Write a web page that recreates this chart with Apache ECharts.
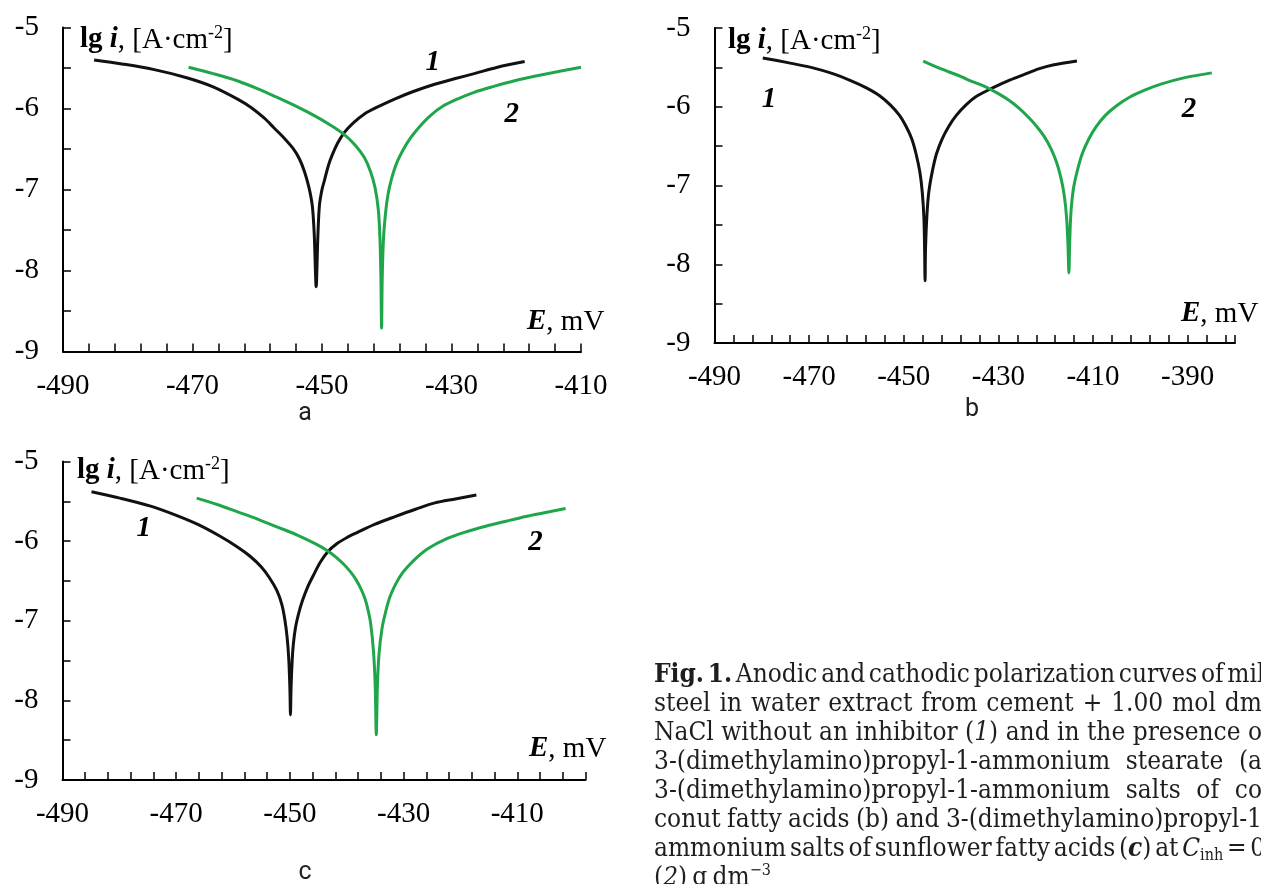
<!DOCTYPE html>
<html>
<head>
<meta charset="utf-8">
<script src="https://cdn.jsdelivr.net/npm/echarts@6/dist/echarts.min.js"></script>
<style>
  html, body { margin: 0; padding: 0; background: #fff; }
  #main { width: 1261px; height: 884px; }
</style>
</head>
<body>
<div id="main"></div>
<script>
// values: [E (mV), lg i]
const aCurve1 = [[-485.2,-5.40],[-480.9,-5.45],[-475.9,-5.52],[-470.9,-5.62],[-466.9,-5.73],[-462.9,-5.89],[-460.9,-5.99],[-458.9,-6.12],
  [-457.4,-6.24],[-455.9,-6.36],[-454.5,-6.49],[-453.5,-6.62],[-452.7,-6.78],[-452.0,-6.98],[-451.5,-7.2],[-451.2,-7.55],[-450.9,-8.2],
  [-450.65,-7.6],[-450.4,-7.2],[-450.0,-7.0],[-449.6,-6.88],[-449.0,-6.7],[-448.4,-6.57],[-447.6,-6.43],[-446.6,-6.3],[-445.2,-6.18],
  [-443.5,-6.07],[-441.4,-5.98],[-438.7,-5.88],[-435.9,-5.79],[-432.6,-5.7],[-429.4,-5.63],[-426.5,-5.57],[-422.9,-5.49],[-418.7,-5.42]];
const aCurve2 = [[-470.6,-5.49],[-466.8,-5.57],[-463.0,-5.66],[-459.8,-5.76],[-457.0,-5.86],[-453.8,-5.98],[-450.9,-6.1],[-448.6,-6.21],
  [-446.6,-6.32],[-444.9,-6.45],[-443.5,-6.6],[-442.5,-6.78],[-441.8,-6.98],[-441.3,-7.25],[-441.05,-7.6],[-440.9,-8.1],[-440.8,-8.71],
  [-440.7,-8.1],[-440.5,-7.6],[-440.2,-7.3],[-439.8,-7.06],[-439.3,-6.88],[-438.5,-6.68],[-437.4,-6.5],[-436.3,-6.36],[-435.0,-6.23],
  [-433.3,-6.09],[-431.3,-5.97],[-429.0,-5.88],[-426.5,-5.8],[-423.6,-5.73],[-420.4,-5.66],[-415.8,-5.58],[-410.0,-5.49]];

const bCurve1 = [[-479.8,-5.38],[-474.5,-5.44],[-469.6,-5.5],[-465.0,-5.58],[-461.1,-5.67],[-457.9,-5.76],[-455.1,-5.86],[-452.8,-5.98],
  [-450.9,-6.11],[-449.5,-6.25],[-448.3,-6.41],[-447.4,-6.6],[-446.6,-6.83],[-446.1,-7.08],[-445.75,-7.4],[-445.6,-7.8],[-445.5,-8.21],
  [-445.4,-7.8],[-445.1,-7.37],[-444.7,-7.08],[-444.0,-6.83],[-443.1,-6.6],[-441.9,-6.41],[-440.5,-6.25],[-438.9,-6.11],[-436.9,-5.98],
  [-434.7,-5.87],[-431.0,-5.755],[-427.5,-5.66],[-424.5,-5.59],[-421.5,-5.52],[-418.5,-5.47],[-413.4,-5.42]];
const bCurve2 = [[-445.9,-5.42],[-442.1,-5.52],[-438.6,-5.6],[-435.5,-5.68],[-432.6,-5.75],[-430.1,-5.83],[-427.7,-5.92],[-425.6,-6.02],
  [-423.7,-6.13],[-421.9,-6.25],[-420.3,-6.38],[-419.0,-6.52],[-417.8,-6.69],[-416.8,-6.9],[-416.1,-7.12],[-415.6,-7.4],[-415.3,-7.75],[-415.1,-8.11],
  [-414.95,-7.75],[-414.7,-7.37],[-414.2,-7.06],[-413.4,-6.83],[-412.3,-6.6],[-410.9,-6.41],[-409.3,-6.25],[-407.4,-6.11],[-405.1,-5.99],
  [-402.3,-5.88],[-399.1,-5.79],[-395.5,-5.71],[-390.6,-5.63],[-384.9,-5.57]];

const cCurve1 = [[-484.9,-5.38],[-479.9,-5.46],[-474.5,-5.56],[-470.2,-5.67],[-466.2,-5.79],[-462.5,-5.93],[-459.3,-6.07],[-457.0,-6.19],
  [-455.1,-6.32],[-453.6,-6.46],[-452.3,-6.62],[-451.4,-6.8],[-450.9,-6.98],[-450.5,-7.2],[-450.2,-7.48],[-450.0,-7.85],[-449.9,-8.18],
  [-449.8,-7.85],[-449.6,-7.5],[-449.4,-7.3],[-449.0,-7.08],[-448.5,-6.92],[-447.8,-6.75],[-446.9,-6.58],[-445.8,-6.42],[-444.6,-6.26],
  [-443.3,-6.13],[-441.7,-6.03],[-440.1,-5.96],[-438.4,-5.9],[-435.1,-5.79],[-431.4,-5.69],[-427.9,-5.6],[-424.5,-5.52],[-420.9,-5.47],[-417.2,-5.42]];
const cCurve2 = [[-466.4,-5.46],[-462.8,-5.54],[-459.3,-5.63],[-455.8,-5.72],[-452.3,-5.82],[-448.8,-5.92],[-445.3,-6.04],[-443.4,-6.12],
  [-441.9,-6.2],[-440.4,-6.3],[-439.3,-6.39],[-438.4,-6.48],[-437.5,-6.6],[-436.8,-6.72],[-436.3,-6.85],[-435.8,-7.03],[-435.3,-7.38],[-435.0,-7.8],[-434.8,-8.43],
  [-434.6,-7.8],[-434.3,-7.4],[-433.8,-7.1],[-433.2,-6.9],[-432.4,-6.7],[-431.4,-6.54],[-430.2,-6.4],[-429.0,-6.3],[-427.6,-6.2],[-425.6,-6.09],
  [-422.4,-5.97],[-419.3,-5.89],[-415.4,-5.81],[-412.0,-5.75],[-408.5,-5.69],[-405.0,-5.64],[-401.5,-5.59]];

// curve numbers: [E, lg i, text]
const aMarks = [[-432.9,-5.43,'1'],[-420.7,-6.08,'2']];
const bMarks = [[-478.5,-5.91,'1'],[-389.7,-6.03,'2']];
const cMarks = [[-475.7,-5.84,'1'],[-406.8,-6.02,'2']];

// tick labels
const xLabelsA = [-490,-470,-450,-430,-410];
const xLabelsB = [-490,-470,-450,-430,-410,-390];
const xLabelsC = [-490,-470,-450,-430,-410];
const yLabels = [-9,-8,-7,-6,-5];
const xRangeA = [-490,-410];
const xRangeB = [-490,-380];
const xRangeC = [-490,-398];

const serif = '"Liberation Serif", "Times New Roman", serif';
const capFont = '"DejaVu Serif Condensed", "DejaVu Serif", serif';
const BLACK = '#111';
const GREEN = '#1fa64b';
const FS = 29;

const chart = echarts.init(document.getElementById('main'));

const grids = [
  { left: 63, top: 27.5, width: 518, height: 324 },
  { left: 714.5, top: 28, width: 520.5, height: 315 },
  { left: 62.5, top: 461.5, width: 523, height: 318.5 }
].map(g => Object.assign({ outerBoundsMode: 'none', containLabel: false }, g));

function xAxis(i, range, labels) {
  return {
    type: 'value', gridIndex: i, min: range[0], max: range[1], interval: 4,
    axisLine: { lineStyle: { color: '#000', width: 2 } },
    axisTick: { inside: true, length: 8, lineStyle: { color: '#000', width: 1.5 } },
    splitLine: { show: false },
    axisLabel: {
      margin: 20, color: '#000', fontFamily: serif, fontSize: FS,
      formatter: v => labels.includes(Math.round(v)) ? String(Math.round(v)) : ''
    }
  };
}
function yAxis(i) {
  return {
    type: 'value', gridIndex: i, min: -9, max: -5, interval: 0.5,
    axisLine: { show: true, lineStyle: { color: '#000', width: 2 } },
    axisTick: { show: true, inside: true, length: 8, lineStyle: { color: '#000', width: 1.5 } },
    splitLine: { show: false },
    axisLabel: {
      margin: 24, color: '#000', fontFamily: serif, fontSize: FS,
      formatter: v => yLabels.includes(v) ? String(v) : ''
    }
  };
}
function curve(i, data, color) {
  return {
    type: 'line', xAxisIndex: i, yAxisIndex: i, data: data, showSymbol: false, smooth: 0.3,
    lineStyle: { color: color, width: 3 }, silent: true
  };
}
function marks(i, data) {
  return {
    type: 'scatter', xAxisIndex: i, yAxisIndex: i, data: data, symbolSize: 0,
    itemStyle: { color: '#000', opacity: 1 }, silent: true,
    label: {
      show: true, position: 'inside', formatter: p => p.data[2], textBorderWidth: 0, opacity: 1,
      fontFamily: serif, fontSize: FS, fontWeight: 'bold', fontStyle: 'italic', color: '#000'
    }
  };
}

const axRich = {
  b: { fontFamily: serif, fontSize: FS, fontWeight: 'bold', fill: '#000', lineHeight: 32 },
  bi: { fontFamily: serif, fontSize: FS, fontWeight: 'bold', fontStyle: 'italic', fill: '#000', lineHeight: 32 },
  n: { fontFamily: serif, fontSize: FS, fill: '#000', lineHeight: 32 },
  sup: { fontFamily: serif, fontSize: 18, fill: '#000', lineHeight: 20, verticalAlign: 'top' }
};
function axText(x, y, text) {
  return { type: 'text', x: x, y: y, silent: true,
    style: { text: text, rich: axRich, fontFamily: serif, fontSize: FS, fill: '#000', verticalAlign: 'middle' } };
}
const yTitle = '{b|lg }{bi|i}{n|, [A·cm}{sup|-2}{n|]}';
const xTitle = '{bi|E}{n|, mV}';

function letter(x, y, t) {
  return { type: 'text', x: x, y: y, silent: true,
    style: { text: t, fontFamily: 'Roboto, "Noto Sans", sans-serif', fontSize: 25, fill: '#222', align: 'center', verticalAlign: 'middle' } };
}

// caption, justified word by word
const CFS = 26;
const capBase = { fontFamily: capFont, fontSize: CFS };
const capRich = {
  b: { fontFamily: capFont, fontSize: CFS, fontWeight: 'bold', fill: '#1e1e1e', lineHeight: 30 },
  i: { fontFamily: capFont, fontSize: CFS, fontStyle: 'italic', fill: '#1e1e1e', lineHeight: 30 },
  bi: { fontFamily: capFont, fontSize: CFS, fontWeight: 'bold', fontStyle: 'italic', fill: '#1e1e1e', lineHeight: 30 },
  sub: { fontFamily: capFont, fontSize: 16, fill: '#1e1e1e', lineHeight: 12, verticalAlign: 'bottom' },
  sup: { fontFamily: capFont, fontSize: 16, fill: '#1e1e1e', lineHeight: 16, verticalAlign: 'top' }
};
const captionLines = [
  '{b|Fig.} {b|1.} Anodic and cathodic polarization curves of mil',
  'steel in water extract from cement + 1.00 mol dm',
  'NaCl without an inhibitor ({i|1}) and in the presence o',
  '3-(dimethylamino)propyl-1-ammonium stearate (a',
  '3-(dimethylamino)propyl-1-ammonium salts of co',
  'conut fatty acids (b) and 3-(dimethylamino)propyl-1',
  'ammonium salts of sunflower fatty acids ({bi|c}) at {i|C}{sub|inh} = 0.',
  '({i|2}) g dm{sup|−3}'
];
const meas = document.createElement('canvas').getContext('2d');
function widthOf(word) {
  let w = 0, m;
  const re = /\{(\w+)\|([^}]*)\}|([^{]+)/g;
  while ((m = re.exec(word))) {
    const st = m[1] ? capRich[m[1]] : capBase;
    meas.font = (st.fontStyle || 'normal') + ' ' + (st.fontWeight || 'normal') + ' ' + st.fontSize + 'px ' + st.fontFamily;
    w += meas.measureText(m[1] ? m[2] : m[3]).width;
  }
  return w;
}
const capLeft = 654, capRight = 1262, capTop = 675, capStep = 29;
const caption = [];
captionLines.forEach((line, k) => {
  const words = line.split(' ');
  const ws = words.map(widthOf);
  const space = widthOf(' ');
  const total = ws.reduce((s, v) => s + v, 0);
  let gap = space * 0.7;
  if (k < captionLines.length - 1 && words.length > 1) {
    gap = Math.max(space * 0.5, (capRight - capLeft - total) / (words.length - 1));
  }
  let x = capLeft;
  words.forEach((w, j) => {
    caption.push({ type: 'text', x: x, y: capTop + capStep * k, silent: true,
      style: { text: w, rich: capRich, fontFamily: capFont, fontSize: CFS, fill: '#1e1e1e', verticalAlign: 'middle', lineHeight: 30 } });
    x += ws[j] + gap;
  });
});

chart.setOption({
  animation: false,
  backgroundColor: '#fff',
  grid: grids,
  xAxis: [xAxis(0, xRangeA, xLabelsA), xAxis(1, xRangeB, xLabelsB), xAxis(2, xRangeC, xLabelsC)],
  yAxis: [yAxis(0), yAxis(1), yAxis(2)],
  series: [
    curve(0, aCurve1, BLACK), curve(0, aCurve2, GREEN), marks(0, aMarks),
    curve(1, bCurve1, BLACK), curve(1, bCurve2, GREEN), marks(1, bMarks),
    curve(2, cCurve1, BLACK), curve(2, cCurve2, GREEN), marks(2, cMarks)
  ],
  graphic: [
    axText(80, 40, yTitle), axText(728, 41, yTitle), axText(77, 471, yTitle),
    axText(527, 322, xTitle), axText(1181, 314, xTitle), axText(529, 749, xTitle),
    letter(305, 414, 'a'), letter(972, 410, 'b'), letter(305, 873, 'c')
  ].concat(caption)
});
</script>
</body>
</html>
